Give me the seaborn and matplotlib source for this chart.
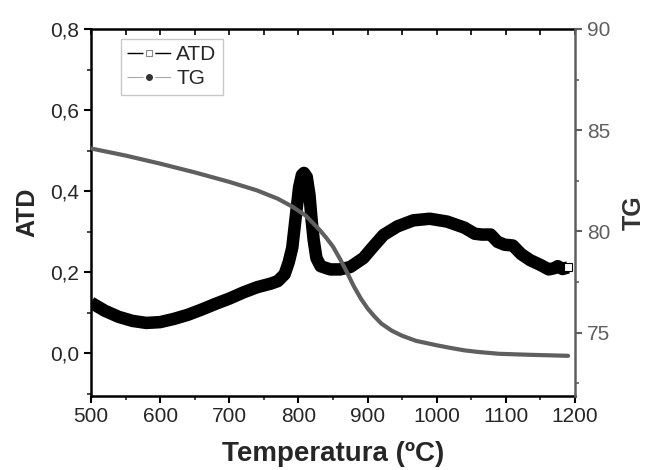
import matplotlib
matplotlib.use("Agg")
import matplotlib.pyplot as plt
import seaborn as sns
import pandas as pd
from matplotlib.lines import Line2D
from matplotlib.ticker import MultipleLocator, FuncFormatter

# ---- data ----
atd_temp = [500, 520, 540, 560, 580, 600, 620, 640, 660, 680, 700, 720, 740, 760, 770,
            780, 786, 791, 796, 801, 805, 808, 812, 816, 819, 822, 826, 832, 846, 860,
            875, 894, 908, 923, 943, 966, 990, 1015, 1040, 1055, 1065, 1078, 1088, 1098,
            1110, 1122, 1135, 1150, 1162, 1170, 1175, 1182, 1190]
atd_vals = [0.125, 0.105, 0.090, 0.080, 0.075, 0.077, 0.085, 0.095, 0.108, 0.122, 0.135,
            0.150, 0.163, 0.172, 0.178, 0.195, 0.225, 0.260, 0.335, 0.410, 0.440, 0.445,
            0.435, 0.390, 0.330, 0.280, 0.235, 0.215, 0.207, 0.207, 0.213, 0.235, 0.263,
            0.292, 0.313, 0.328, 0.332, 0.325, 0.310, 0.295, 0.293, 0.293, 0.275, 0.268,
            0.266, 0.245, 0.230, 0.218, 0.207, 0.210, 0.215, 0.208, 0.212]

tg_temp = [500, 550, 600, 650, 700, 740, 770, 790, 810, 830, 840, 850, 860, 870, 880,
           890, 900, 910, 920, 935, 950, 970, 1000, 1020, 1040, 1060, 1090, 1135, 1190]
tg_vals = [84.1, 83.75, 83.35, 82.92, 82.45, 82.03, 81.62, 81.25, 80.8, 80.1, 79.7,
           79.25, 78.65, 78.0, 77.3, 76.7, 76.2, 75.8, 75.45, 75.1, 74.85, 74.6, 74.38,
           74.25, 74.13, 74.05, 73.96, 73.91, 73.86]

x_ticks = [500, 600, 700, 800, 900, 1000, 1100, 1200]
atd_ticks = [0.0, 0.2, 0.4, 0.6, 0.8]
tg_ticks = [75, 80, 85, 90]

sns.set_style("ticks")
plt.rcParams["font.family"] = ["Liberation Sans", "DejaVu Sans"]

GRAY = "#5f5f5f"

fig = plt.figure(figsize=(6.45, 4.70), dpi=100)
ax = fig.add_axes([0.1411, 0.1585, 0.7504, 0.7798])

df_atd = pd.DataFrame({"T": atd_temp, "ATD": atd_vals})
df_tg = pd.DataFrame({"T": tg_temp, "TG": tg_vals})

sns.lineplot(data=df_atd, x="T", y="ATD", ax=ax, color="black", linewidth=9,
             solid_capstyle="butt", solid_joinstyle="round", legend=False,
             marker="s", markevery=[len(atd_temp) - 1], markersize=6,
             markerfacecolor="white", markeredgecolor="black", markeredgewidth=0.8)

ax.set_xlim(500, 1200)
ax.set_ylim(-0.104, 0.8)
ax.set_xticks(x_ticks)
ax.set_yticks(atd_ticks)
ax.xaxis.set_minor_locator(MultipleLocator(50))
ax.yaxis.set_minor_locator(MultipleLocator(0.1))
ax.yaxis.set_major_formatter(FuncFormatter(lambda v, p: f"{v:.1f}".replace(".", ",")))
ax.tick_params(axis="both", which="major", labelsize=15, length=5, width=1.5,
               direction="out", color="black")
ax.tick_params(axis="both", which="minor", length=3, width=1.2, direction="out")
ax.tick_params(axis="x", pad=3)
for s in ["left", "bottom", "top"]:
    ax.spines[s].set_linewidth(1.8)
    ax.spines[s].set_color("black")
ax.spines["right"].set_visible(False)
ax.spines["top"].set_visible(True)

ax.set_xlabel("Temperatura (ºC)", fontsize=20, fontweight="bold", labelpad=11)
ax.set_ylabel("ATD", fontsize=18, fontweight="bold", labelpad=8)

# top inward ticks
secx = ax.secondary_xaxis("top")
secx.set_xticks(list(range(500, 1201, 50)))
secx.tick_params(direction="in", length=4, width=1.2, labeltop=False, color="black")
secx.spines["top"].set_visible(False)

ax2 = ax.twinx()
sns.lineplot(data=df_tg, x="T", y="TG", ax=ax2, color=GRAY, linewidth=3,
             solid_joinstyle="round", legend=False)
ax2.set_ylim(71.9, 90)
ax2.set_yticks(tg_ticks)
ax2.yaxis.set_minor_locator(MultipleLocator(2.5))
ax2.tick_params(axis="y", which="major", labelsize=15, length=5, width=1.5,
                direction="out", color=GRAY, labelcolor=GRAY)
ax2.tick_params(axis="y", which="minor", length=3, width=1.2, direction="out", color=GRAY)
for s in ["left", "bottom", "top"]:
    ax2.spines[s].set_visible(False)
ax2.spines["right"].set_visible(True)
ax2.spines["right"].set_color(GRAY)
ax2.spines["right"].set_linewidth(1.8)
ax2.set_ylabel("TG", fontsize=18, fontweight="bold", color="#333333", labelpad=8)
ax2.set_xlim(500, 1200)

handles = [
    Line2D([0], [0], color="black", linewidth=1.0, linestyle=(0, (11.5, 8.5)),
           marker="s", markersize=5,
           markerfacecolor="white", markeredgecolor="#888888", markeredgewidth=0.8),
    Line2D([0], [0], color="#aaaaaa", linewidth=0.8, linestyle=(0, (14.4, 10.6)),
           marker="o", markersize=4,
           markerfacecolor="#333333", markeredgecolor="#333333"),
]
leg = ax2.legend(handles, ["ATD", "TG"], loc="upper left",
                 bbox_to_anchor=(0.062, 0.973), borderaxespad=0, fontsize=15,
                 frameon=True, fancybox=False, edgecolor="#bbbbbb",
                 handlelength=2.1, handletextpad=0.25, borderpad=0.3,
                 labelspacing=0.25)
leg.get_frame().set_linewidth(1.0)

fig.savefig("out.png", dpi=100)
